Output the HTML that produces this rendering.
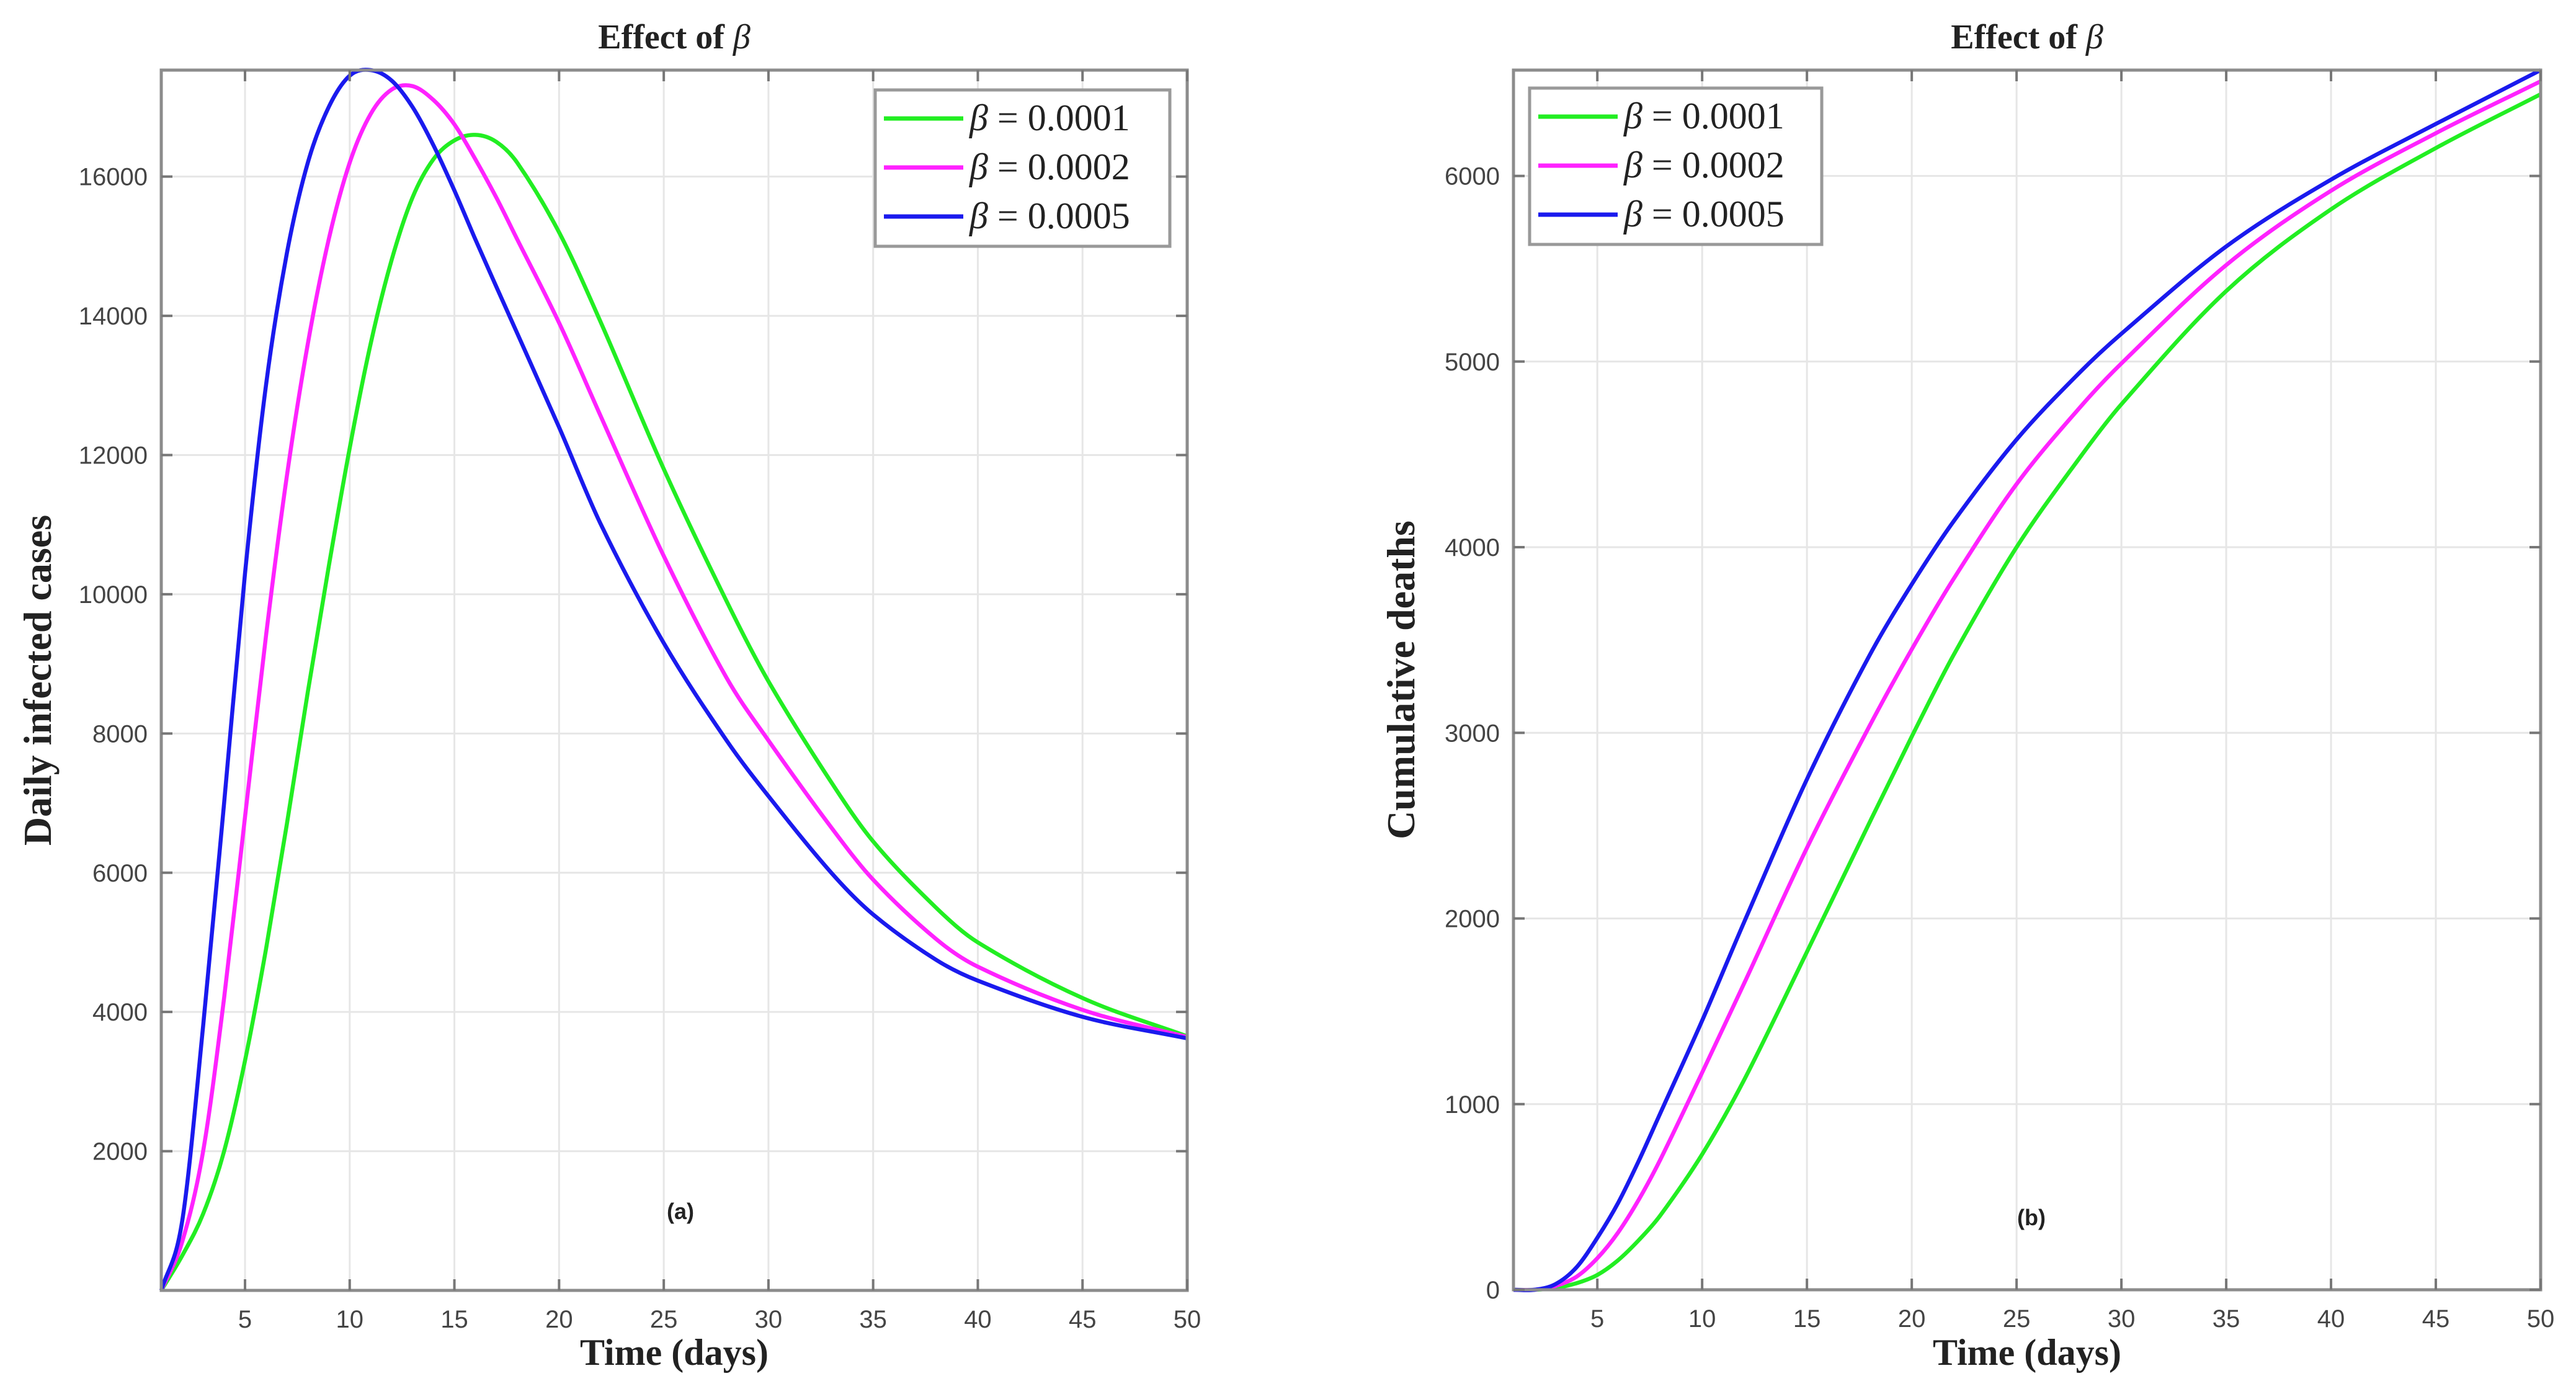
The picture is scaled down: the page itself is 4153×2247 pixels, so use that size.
<!DOCTYPE html>
<html><head><meta charset="utf-8"><style>
html,body{margin:0;padding:0;background:#fff;}
svg{display:block;}
</style></head><body>
<svg id="fig" width="4153" height="2247" viewBox="0 0 4153 2247" xmlns="http://www.w3.org/2000/svg"></svg>
<script>
// ---------- Data ----------
const daysA = [1,2,3,4,5,6,7,8,9,10,11,12,13,14,15,16,17,18,20,22,25,28,30,33,35,38,40,45,50];
const infectedB1 = [0,500,1100,2000,3300,4900,6700,8600,10400,12100,13600,14800,15700,16250,16520,16600,16500,16200,15200,13900,11800,9900,8750,7300,6450,5500,5000,4200,3650];
const infectedB2 = [0,700,2000,4200,6800,9400,11700,13600,15100,16200,16900,17250,17300,17100,16750,16250,15700,15100,13900,12550,10550,8800,7900,6650,5900,5050,4650,4030,3640];
const infectedB5 = [0,1000,3800,7000,10300,13000,14900,16200,17000,17450,17530,17380,17000,16450,15800,15100,14420,13750,12400,11000,9300,7900,7100,6000,5400,4750,4450,3930,3620];
const yTicksA = [2000,4000,6000,8000,10000,12000,14000,16000];

const daysB = [1,2,3,4,5,6,7,8,10,12,15,18,20,22,25,28,30,35,40,45,50];
const deathsB1 = [0,0,10,35,80,160,270,400,730,1130,1820,2520,2980,3420,4000,4480,4770,5380,5820,6150,6440];
const deathsB2 = [0,0,20,70,170,310,490,700,1170,1650,2380,3040,3450,3830,4340,4750,4990,5520,5920,6230,6510];
const deathsB5 = [0,0,30,120,280,470,700,950,1450,1980,2750,3420,3800,4140,4580,4940,5150,5620,5980,6280,6570];
const yTicksB = [0,1000,2000,3000,4000,5000,6000];

const xTicks = [5,10,15,20,25,30,35,40,45,50];
const seriesLabels = ["0.0001","0.0002","0.0005"];
const seriesColors = ["#22ee22","#ff22ff","#1a1aee"];

const NS = "http://www.w3.org/2000/svg";
const svg = document.getElementById("fig");
function mk(tag, attrs, parent){
  const e = document.createElementNS(NS, tag);
  for (const k in attrs) e.setAttribute(k, attrs[k]);
  (parent||svg).appendChild(e);
  return e;
}
function smoothPath(pts){
  const n = pts.length;
  const m = pts.map((p,i)=>{
    const a = pts[Math.max(0,i-1)], b = pts[Math.min(n-1,i+1)];
    return (b[1]-a[1])/(b[0]-a[0]);
  });
  let d = "M" + pts[0][0].toFixed(1) + "," + pts[0][1].toFixed(1);
  for (let i=0;i<n-1;i++){
    const p1 = pts[i], p2 = pts[i+1];
    const h = (p2[0]-p1[0])/3;
    d += " C"+(p1[0]+h).toFixed(1)+","+(p1[1]+m[i]*h).toFixed(1)+" "+(p2[0]-h).toFixed(1)+","+(p2[1]-m[i+1]*h).toFixed(1)+" "+p2[0].toFixed(1)+","+p2[1].toFixed(1);
  }
  return d;
}

function drawPlot(cfg){
  const g = mk("g", {});
  
  
  const L=cfg.left, R=cfg.right, T=cfg.top, B=cfg.bottom;
  const xs = v => L + (v-1)/(50-1)*(R-L);
  const ys = v => B - (v-cfg.ymin)/(cfg.ymax-cfg.ymin)*(B-T);
  xTicks.forEach(t=>{
    const l = mk("line",{x1:xs(t),x2:xs(t),y1:T,y2:B,stroke:"#e6e6e6","stroke-width":3},g);
    
    
  });
  cfg.yTicks.forEach(t=>{
    const l = mk("line",{x1:L,x2:R,y1:ys(t),y2:ys(t),stroke:"#e6e6e6","stroke-width":3},g);
    
    
  });
  cfg.series.forEach((s,i)=>{
    const pts = cfg.x.map((d,j)=>[xs(d), ys(s[j])]);
    const p = mk("path",{d:smoothPath(pts),fill:"none",stroke:seriesColors[i],"stroke-width":6.5,"stroke-linejoin":"round"},g);
    
    
  });
  const box = mk("rect",{x:L,y:T,width:R-L,height:B-T,fill:"none",stroke:"#8c8c8c","stroke-width":5},g);
  
  
  xTicks.forEach(t=>{
    mk("line",{x1:xs(t),x2:xs(t),y1:B,y2:B-18,stroke:"#777","stroke-width":4},g);
    mk("line",{x1:xs(t),x2:xs(t),y1:T,y2:T+18,stroke:"#777","stroke-width":4},g);
    const tx = mk("text",{x:xs(t),y:B+60,"text-anchor":"middle","font-family":"Liberation Sans, sans-serif","font-size":40,fill:"#444"},g);
    tx.textContent = t;
    
    
  });
  cfg.yTicks.forEach(t=>{
    mk("line",{x1:L,x2:L+18,y1:ys(t),y2:ys(t),stroke:"#777","stroke-width":4},g);
    mk("line",{x1:R,x2:R-18,y1:ys(t),y2:ys(t),stroke:"#777","stroke-width":4},g);
    const tx = mk("text",{x:L-22,y:ys(t)+14,"text-anchor":"end","font-family":"Liberation Sans, sans-serif","font-size":40,fill:"#444"},g);
    tx.textContent = t;
    
    
  });
  const title = mk("text",{x:(L+R)/2,y:78,"text-anchor":"middle","font-family":"Liberation Serif, serif","font-size":56,"font-weight":"bold",fill:"#222"},g);
  title.innerHTML = 'Effect of <tspan font-style="italic" font-weight="normal">β</tspan>';
  
  
  const xl = mk("text",{x:(L+R)/2,y:2200,"text-anchor":"middle","font-family":"Liberation Serif, serif","font-size":60,"font-weight":"bold",fill:"#222"},g);
  xl.textContent = "Time (days)";
  
  
  const yl = mk("text",{x:cfg.ylabX,y:(T+B)/2,"text-anchor":"middle","font-family":"Liberation Serif, serif","font-size":64,"font-weight":"bold",fill:"#222",transform:"rotate(-90 "+cfg.ylabX+" "+((T+B)/2)+")"},g);
  yl.textContent = cfg.ylabel;
  
  
  const tag = mk("text",{x:cfg.tagX,y:cfg.tagY,"text-anchor":"middle","font-family":"Liberation Sans, sans-serif","font-size":36,"font-weight":"bold",fill:"#222"},g);
  tag.textContent = cfg.tag;
  
  
  const lg = mk("g",{},g);
  
  
  mk("rect",{x:cfg.legX,y:cfg.legY,width:cfg.legW,height:252,fill:"#fff",stroke:"#999","stroke-width":5},lg);
  seriesLabels.forEach((lab,i)=>{
    const yy = cfg.legY + 46 + i*79;
    const e = mk("g",{},lg);
    
    
    mk("line",{x1:cfg.legX+14,x2:cfg.legX+142,y1:yy,y2:yy,stroke:seriesColors[i],"stroke-width":7},e);
    const t = mk("text",{x:cfg.legX+152,y:yy+19,"font-family":"Liberation Serif, serif","font-size":60,fill:"#222"},e);
    t.innerHTML = '<tspan font-style="italic">β</tspan> = '+lab;
  });
}

drawPlot({name:"plot-daily-infected", left:260, right:1914, top:113, bottom:2080, ymin:0, ymax:17530,
  yTicks:yTicksA, x:daysA, series:[infectedB1,infectedB2,infectedB5],
  ylabel:"Daily infected cases", ylabX:82, tag:"(a)", tagX:1097, tagY:1965,
  legX:1411, legY:145, legW:475});
drawPlot({name:"plot-cumulative-deaths", left:2440, right:4096, top:113, bottom:2079, ymin:0, ymax:6570,
  yTicks:yTicksB, x:daysB, series:[deathsB1,deathsB2,deathsB5],
  ylabel:"Cumulative deaths", ylabX:2280, tag:"(b)", tagX:3275, tagY:1975,
  legX:2466, legY:142, legW:471});
</script>
</body></html>
